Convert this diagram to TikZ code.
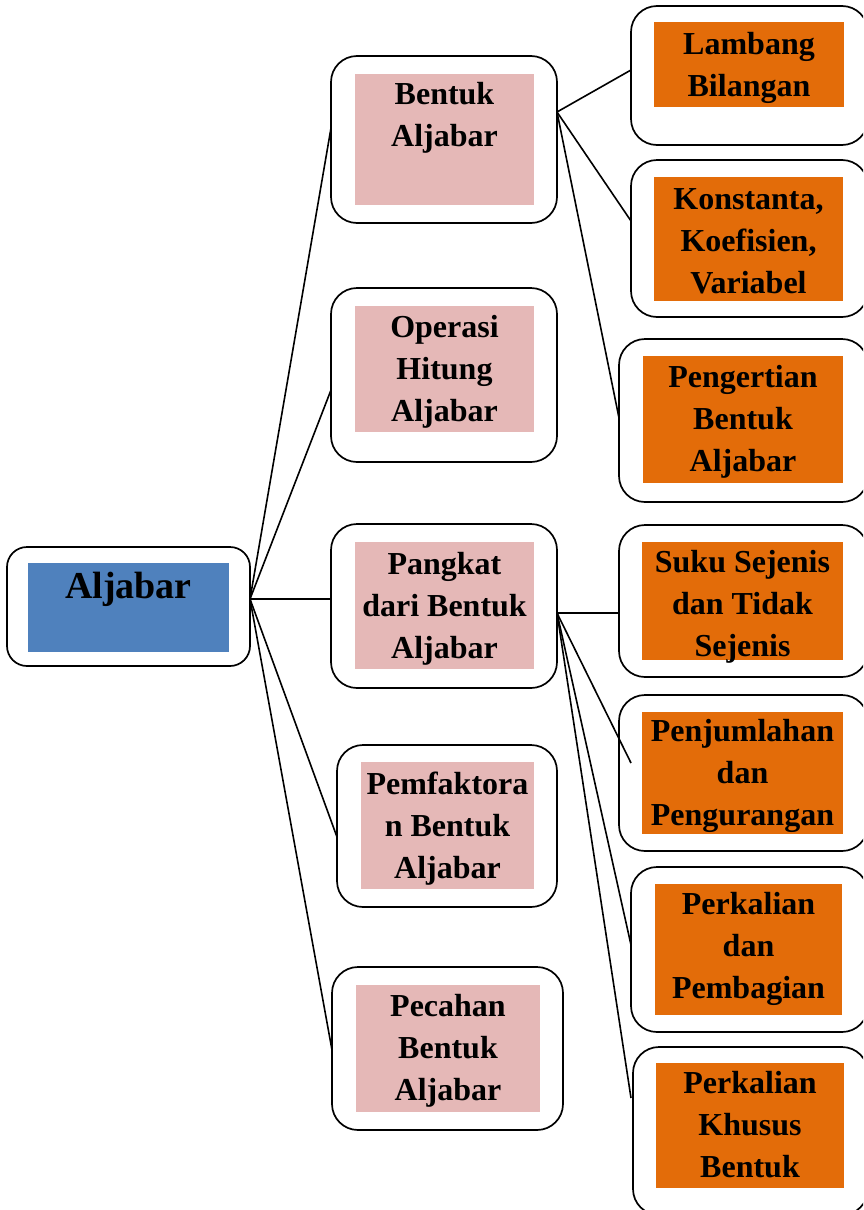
\documentclass[tikz,border=0pt]{standalone}
\usepackage{fontspec}
\setmainfont{Liberation Serif}
\definecolor{blueF}{RGB}{79,129,189}
\definecolor{pinkF}{RGB}{229,184,183}
\definecolor{orangeF}{RGB}{227,108,9}
\tikzset{
  obox/.style={draw=black, line width=1.7pt, rounded corners=26pt, fill=white, inner sep=0pt, outer sep=0pt},
  abox/.style={obox, rounded corners=20pt},
  fillbox/.style={inner sep=0pt, outer sep=0pt, draw=none},
  txt/.style={inner sep=0pt, outer sep=0pt, align=center, yshift=-1.5pt, font=\fontsize{32}{42}\selectfont\bfseries},
  conn/.style={draw=black, line width=1.6pt}
}
\begin{document}
\begin{tikzpicture}[x=1pt,y=-1pt]
\useasboundingbox (0,0) rectangle (863,1210);
\clip (0,0) rectangle (863,1210);
% outer boxes
\node[abox, minimum width=243pt, minimum height=119pt] (alj) at (128.5,606.5) {};
\node[obox, minimum width=226pt, minimum height=167pt] (m1) at (444,139.5) {};
\node[obox, minimum width=226pt, minimum height=174pt] (m2) at (444,375) {};
\node[obox, minimum width=226pt, minimum height=164pt] (m3) at (444,606) {};
\node[obox, minimum width=220pt, minimum height=162pt] (m4) at (447,826) {};
\node[obox, minimum width=231pt, minimum height=163pt] (m5) at (447.5,1048.5) {};
\node[obox, minimum width=237pt, minimum height=139pt] (r1) at (749.5,75.5) {};
\node[obox, minimum width=237pt, minimum height=157pt] (r2) at (749.5,238.5) {};
\node[obox, minimum width=249pt, minimum height=163pt] (r3) at (743.5,420.5) {};
\node[obox, minimum width=249pt, minimum height=152pt] (r4) at (743.5,601) {};
\node[obox, minimum width=249pt, minimum height=156pt] (r5) at (743.5,773) {};
\node[obox, minimum width=237pt, minimum height=165pt] (r6) at (749.5,949.5) {};
\node[obox, minimum width=235pt, minimum height=168pt] (r7) at (750.5,1131) {};
% inner coloured fills
\node[fillbox, fill=blueF, minimum width=201pt, minimum height=89pt] (alj-f) at (128.5,607.5) {};
\node[fillbox, fill=pinkF, minimum width=179pt, minimum height=131pt] (m1-f) at (444.5,139.5) {};
\node[fillbox, fill=pinkF, minimum width=179pt, minimum height=126pt] (m2-f) at (444.5,369) {};
\node[fillbox, fill=pinkF, minimum width=179pt, minimum height=127pt] (m3-f) at (444.5,605.5) {};
\node[fillbox, fill=pinkF, minimum width=173pt, minimum height=127pt] (m4-f) at (447.5,825.5) {};
\node[fillbox, fill=pinkF, minimum width=184pt, minimum height=127pt] (m5-f) at (448,1048.5) {};
\node[fillbox, fill=orangeF, minimum width=190pt, minimum height=85pt] (r1-f) at (749,64.5) {};
\node[fillbox, fill=orangeF, minimum width=189pt, minimum height=124pt] (r2-f) at (748.5,239) {};
\node[fillbox, fill=orangeF, minimum width=200pt, minimum height=127pt] (r3-f) at (743,419.5) {};
\node[fillbox, fill=orangeF, minimum width=201pt, minimum height=118pt] (r4-f) at (742.5,601) {};
\node[fillbox, fill=orangeF, minimum width=201pt, minimum height=122pt] (r5-f) at (742.5,773) {};
\node[fillbox, fill=orangeF, minimum width=187pt, minimum height=131pt] (r6-f) at (748.5,949.5) {};
\node[fillbox, fill=orangeF, minimum width=188pt, minimum height=125pt] (r7-f) at (750,1125.5) {};
% texts
\node[inner sep=0pt, anchor=base, font=\fontsize{38}{46}\selectfont\bfseries] (alj-t) at (128.5,598.5) {Aljabar};
\node[txt] (m1-t) at (444.5,116) {\strut Bentuk\\\strut Aljabar};
\node[txt] (m2-t) at (444.5,370) {\strut Operasi\\\strut Hitung\\\strut Aljabar};
\node[txt] (m3-t) at (444.5,607) {\strut Pangkat\\\strut dari Bentuk\\\strut Aljabar};
\node[txt] (m4-t) at (447.5,827) {\strut Pemfaktora\\\strut n Bentuk\\\strut Aljabar};
\node[txt] (m5-t) at (448,1049) {\strut Pecahan\\\strut Bentuk\\\strut Aljabar};
\node[txt] (r1-t) at (749,65.5) {\strut Lambang\\\strut Bilangan};
\node[txt] (r2-t) at (748.5,242) {\strut Konstanta,\\\strut Koefisien,\\\strut Variabel};
\node[txt] (r3-t) at (743,420) {\strut Pengertian\\\strut Bentuk\\\strut Aljabar};
\node[txt] (r4-t) at (742.5,605) {\strut Suku Sejenis\\\strut dan Tidak\\\strut Sejenis};
\node[txt] (r5-t) at (742.5,774) {\strut Penjumlahan\\\strut dan\\\strut Pengurangan};
\node[txt] (r6-t) at (748.5,947) {\strut Perkalian\\\strut dan\\\strut Pembagian};
\node[txt] (r7-t) at (750,1126) {\strut Perkalian\\\strut Khusus\\\strut Bentuk};
% connector end points
\coordinate (aS) at (250,599);
\coordinate (m1-in) at (331,128);
\coordinate (m2-in) at (331,390);
\coordinate (m3-in) at (331,599);
\coordinate (m4-in) at (337,837);
\coordinate (m5-in) at (332,1050);
\coordinate (bS) at (557,112);
\coordinate (r1-in) at (631,70);
\coordinate (r2-in) at (631,221);
\coordinate (r3-in) at (619,418);
\coordinate (pS) at (557,613);
\coordinate (r4-in) at (619,613);
\coordinate (r5-in) at (631,763);
\coordinate (r6-in) at (631,945);
\coordinate (r7-in) at (631,1098);
% connectors
\draw[conn] (aS) -- (m1-in);
\draw[conn] (aS) -- (m2-in);
\draw[conn] (aS) -- (m3-in);
\draw[conn] (aS) -- (m4-in);
\draw[conn] (aS) -- (m5-in);
\draw[conn] (bS) -- (r1-in);
\draw[conn] (bS) -- (r2-in);
\draw[conn] (bS) -- (r3-in);
\draw[conn] (pS) -- (r4-in);
\draw[conn] (pS) -- (r5-in);
\draw[conn] (pS) -- (r6-in);
\draw[conn] (pS) -- (r7-in);
\end{tikzpicture}
\end{document}
